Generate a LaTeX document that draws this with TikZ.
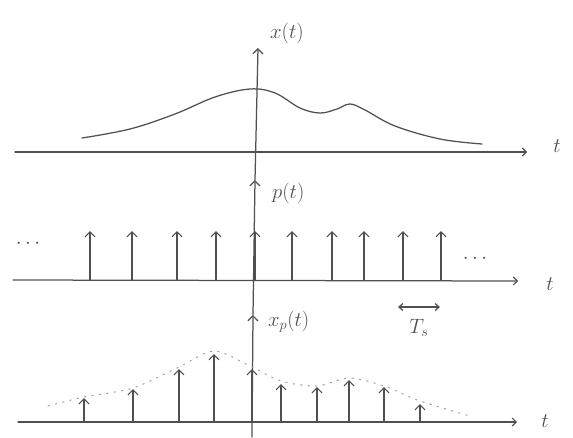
\documentclass[tikz,border=0pt]{standalone}
\usetikzlibrary{arrows.meta}
\definecolor{pen}{RGB}{80,80,80}
\begin{document}
\begin{tikzpicture}[x=1pt,y=-1pt,
  pencil/.style={draw=pen, line width=1.25pt, line cap=round, line join=round},
  imp/.style={pencil, -{Straight Barb[length=5pt,width=10pt,line width=1.2pt]}},
  axis/.style={pencil, -{Straight Barb[length=4pt,width=8pt,line width=1.2pt]}},
  lbl/.style={text=pen, font=\fontsize{21}{24}\selectfont, inner sep=0pt},
  env/.style={draw=pen!55, line width=1pt, dash pattern=on 1.5pt off 6pt, line cap=round}]
\useasboundingbox (0,0) rectangle (573,437);

% vertical axis with its three arrow heads
\coordinate (v0) at (252,437);
\coordinate (v1) at (253,315);
\coordinate (v2) at (255,180);
\coordinate (v3) at (258,48);
\draw[imp] (v0) -- (v1);
\draw[imp] (v1) -- (v2);
\draw[imp] (v2) -- (v3);

% labels on the vertical axis
\node[lbl, anchor=west] (xt) at (270,33) {$x(t)$};
\node[lbl, anchor=west] (pt) at (272,193) {$p(t)$};
\node[lbl, anchor=west] (xpt) at (268,322) {$x_p(t)$};

% top: x(t)
\coordinate (a1s) at (15,152);
\coordinate (a1e) at (527,152);
\draw[axis] (a1s) -- (a1e);
\node[lbl] (t1) at (557,146) {$t$};
\draw[pencil] plot[smooth, tension=0.6] coordinates {(82,138) (130,129) (175,114) (215,97) (250,89) (275,93) (300,108) (320,113) (337,109) (350,104) (365,110) (395,126) (440,139) (482,144)};

% middle: p(t)
\coordinate (a2s) at (13,280);
\coordinate (a2e) at (518,281);
\draw[axis] (a2s) -- (a2e);
\node[lbl] (t2) at (550,284) {$t$};
\foreach \x/\n in {90/1,132/2,177/3,216/4,255/5,292/6,332/7,364/8,403/9,441/10}{
  \coordinate (pb\n) at (\x,280);
  \coordinate (pk\n) at (\x,231);
  \draw[imp] (pb\n) -- (pk\n);
}
\node[lbl] (dl) at (28,244) {$\cdots$};
\node[lbl] (dr) at (475,259) {$\cdots$};

% sampling period
\coordinate (ta) at (398,307);
\coordinate (tb) at (440,307);
\draw[pencil, {Straight Barb[length=4pt,width=7pt]}-{Straight Barb[length=4pt,width=7pt]}] (ta) -- (tb);
\node[lbl] (ts) at (419,328) {$T_s$};

% bottom: x_p(t)
\coordinate (a3s) at (18,422);
\coordinate (a3e) at (517,422);
\draw[axis] (a3s) -- (a3e);
\node[lbl] (t3) at (545,421) {$t$};
\draw[env] plot[smooth] coordinates {(48,406) (84,397) (133,388) (179,367) (214,351) (250,366) (281,381) (317,386) (349,378) (384,386) (420,401) (470,416)};
\foreach \x/\h/\n in {84/398/1,133/389/2,179/369/3,214/354/4,252/369/5,281/384/6,317/387/7,349/380/8,384/387/9,420/404/10}{
  \coordinate (xb\n) at (\x,422);
  \coordinate (xk\n) at (\x,\h);
  \draw[imp] (xb\n) -- (xk\n);
}
\end{tikzpicture}
\end{document}
